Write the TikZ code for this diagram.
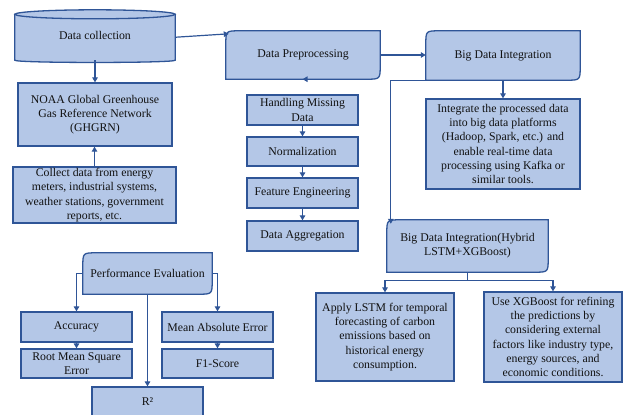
\documentclass[tikz,border=0pt]{standalone}
\usepackage{fontspec}
\setmainfont{Liberation Serif}
\usetikzlibrary{arrows.meta,backgrounds,calc}
\definecolor{fillc}{HTML}{B4C7E7}
\definecolor{bdr}{HTML}{2F5597}
\definecolor{txtc}{HTML}{111111}
\tikzset{
  basetxt/.style={align=center,text=txtc,inner sep=1bp,
    font=\fontsize{11.8bp}{14.2bp}\selectfont},
  box/.style={basetxt,draw=bdr,fill=fillc,line width=1.3bp},
  plain/.style={basetxt},
  shp/.style={draw=bdr,fill=fillc,line width=1.3bp},
  arr/.style={draw=bdr,line width=1.2bp,-{Triangle[length=5bp,width=5.5bp]}},
  ln/.style={draw=bdr,line width=1.2bp}
}
\newcommand{\ddshape}[1]{%
  \begin{pgfonlayer}{background}
  \path[shp] (#1.south west) -- ([yshift=-14bp]#1.north west)
    .. controls (#1.north west) .. ([xshift=14bp]#1.north west)
    -- (#1.north east) -- ([yshift=14bp]#1.south east)
    .. controls (#1.south east) .. ([xshift=-14bp]#1.south east) -- cycle;
  \end{pgfonlayer}}
\begin{document}
\begin{tikzpicture}[x=1bp,y=-1bp]
\useasboundingbox (0,0) rectangle (623,414);
\clip (0,0) rectangle (623,414);

% Data collection cylinder
\node[plain,minimum width=160bp,minimum height=45.5bp] (dc) at (95,37.25) {};
\node[plain] (dct) at (95,35) {Data collection};
\begin{pgfonlayer}{background}
\path[shp] (dc.north west) -- (dc.south west)
  .. controls ([yshift=-3bp]dc.south west) and ([yshift=-3bp]dc.south east) .. (dc.south east)
  -- (dc.north east) -- cycle;
\path[shp] (dc.north) ellipse [x radius=80bp, y radius=4.5bp];
\end{pgfonlayer}

\node[box,minimum width=154bp,minimum height=63bp] (noaa) at (95,114.5)
  {NOAA Global Greenhouse\\Gas Reference Network\\(GHGRN)};
\node[box,minimum width=163bp,minimum height=56bp] (col) at (94.5,195)
  {Collect data from energy\\meters, industrial systems,\\weather stations, government\\reports, etc.};

% Preprocessing
\node[plain,minimum width=154bp,minimum height=48bp] (pp) at (303,55) {Data Preprocessing};
\ddshape{pp}
\node[box,minimum width=111bp,minimum height=30bp] (hmd) at (302.5,110) {Handling Missing\\Data};
\node[box,minimum width=111bp,minimum height=29bp] (norm) at (302.5,151.5) {Normalization};
\node[box,minimum width=111bp,minimum height=30bp] (feat) at (302.5,193) {Feature Engineering};
\node[box,minimum width=111bp,minimum height=30bp] (agg) at (302.5,236) {Data Aggregation};

% Big data integration
\node[plain,minimum width=154bp,minimum height=49bp] (bdi) at (503,55.5) {Big Data Integration};
\ddshape{bdi}
\node[box,minimum width=154bp,minimum height=90bp] (integ) at (503,144)
  {Integrate the processed data\\into big data platforms\\(Hadoop, Spark, etc.) and\\enable real-time data\\processing using Kafka or\\similar tools.};

% Hybrid
\node[plain,minimum width=161bp,minimum height=52bp] (hyb) at (467.5,246)
  {Big Data Integration(Hybrid\\LSTM+XGBoost)};
\ddshape{hyb}
\node[box,minimum width=138bp,minimum height=88bp] (lstm) at (385,337)
  {Apply LSTM for temporal\\forecasting of carbon\\emissions based on\\historical energy\\consumption.};
\node[box,minimum width=138bp,minimum height=90bp] (xgb) at (553,337)
  {Use XGBoost for refining\\the predictions by\\considering external\\factors like industry type,\\energy sources, and\\economic conditions.};

% Performance evaluation
\node[plain,minimum width=129bp,minimum height=41bp] (pe) at (147.5,273.5) {Performance Evaluation};
\ddshape{pe}
\node[box,minimum width=111bp,minimum height=30bp] (acc) at (76.5,327) {Accuracy};
\node[box,minimum width=111bp,minimum height=29bp] (rmse) at (76.5,363.5) {Root Mean Square\\Error};
\node[box,minimum width=111bp,minimum height=30bp] (mae) at (217.5,327) {Mean Absolute Error};
\node[box,minimum width=111bp,minimum height=29bp] (f1) at (217.5,363.5) {F1-Score};
\node[box,minimum width=111bp,minimum height=34bp,text depth=0pt] (r2) at (147.5,404) {};
\node[plain] (r2t) at (147.5,402) {R²};

% Connectors
\draw[arr] (dc.east) -- ([xshift=3bp,yshift=-3bp]pp.north west);
\draw[arr] (dc.south) -- (noaa.north);
\draw[arr] (col.north) -- (col.north |- noaa.south);
\draw[arr] (pp.east) -- (pp.east -| bdi.west);
\draw[arr] (pp.south) -- (pp.south -| hmd.north);
\draw[arr] (hmd) -- (norm);
\draw[arr] (norm) -- (feat);
\draw[arr] (feat) -- (agg);
\draw[arr] (bdi.south) -- (integ.north);
\coordinate (hyt) at ([xshift=4bp,yshift=-4bp]hyb.north west);
\draw[arr] (bdi.south west) -| (hyt);
\draw[ln] (hyb.south) -- ++(0,8) coordinate (hb);
\draw[arr] (hb) -| (lstm.north);
\draw[arr] (hb) -| (xgb.north);
\draw[arr] (pe.west) -| (acc.north);
\draw[arr] (pe.east) -| (mae.north);
\draw[arr] (pe.south) -- (r2.north);
\draw[arr] (acc) -- (rmse);
\draw[arr] (mae) -- (f1);
\end{tikzpicture}
\end{document}
